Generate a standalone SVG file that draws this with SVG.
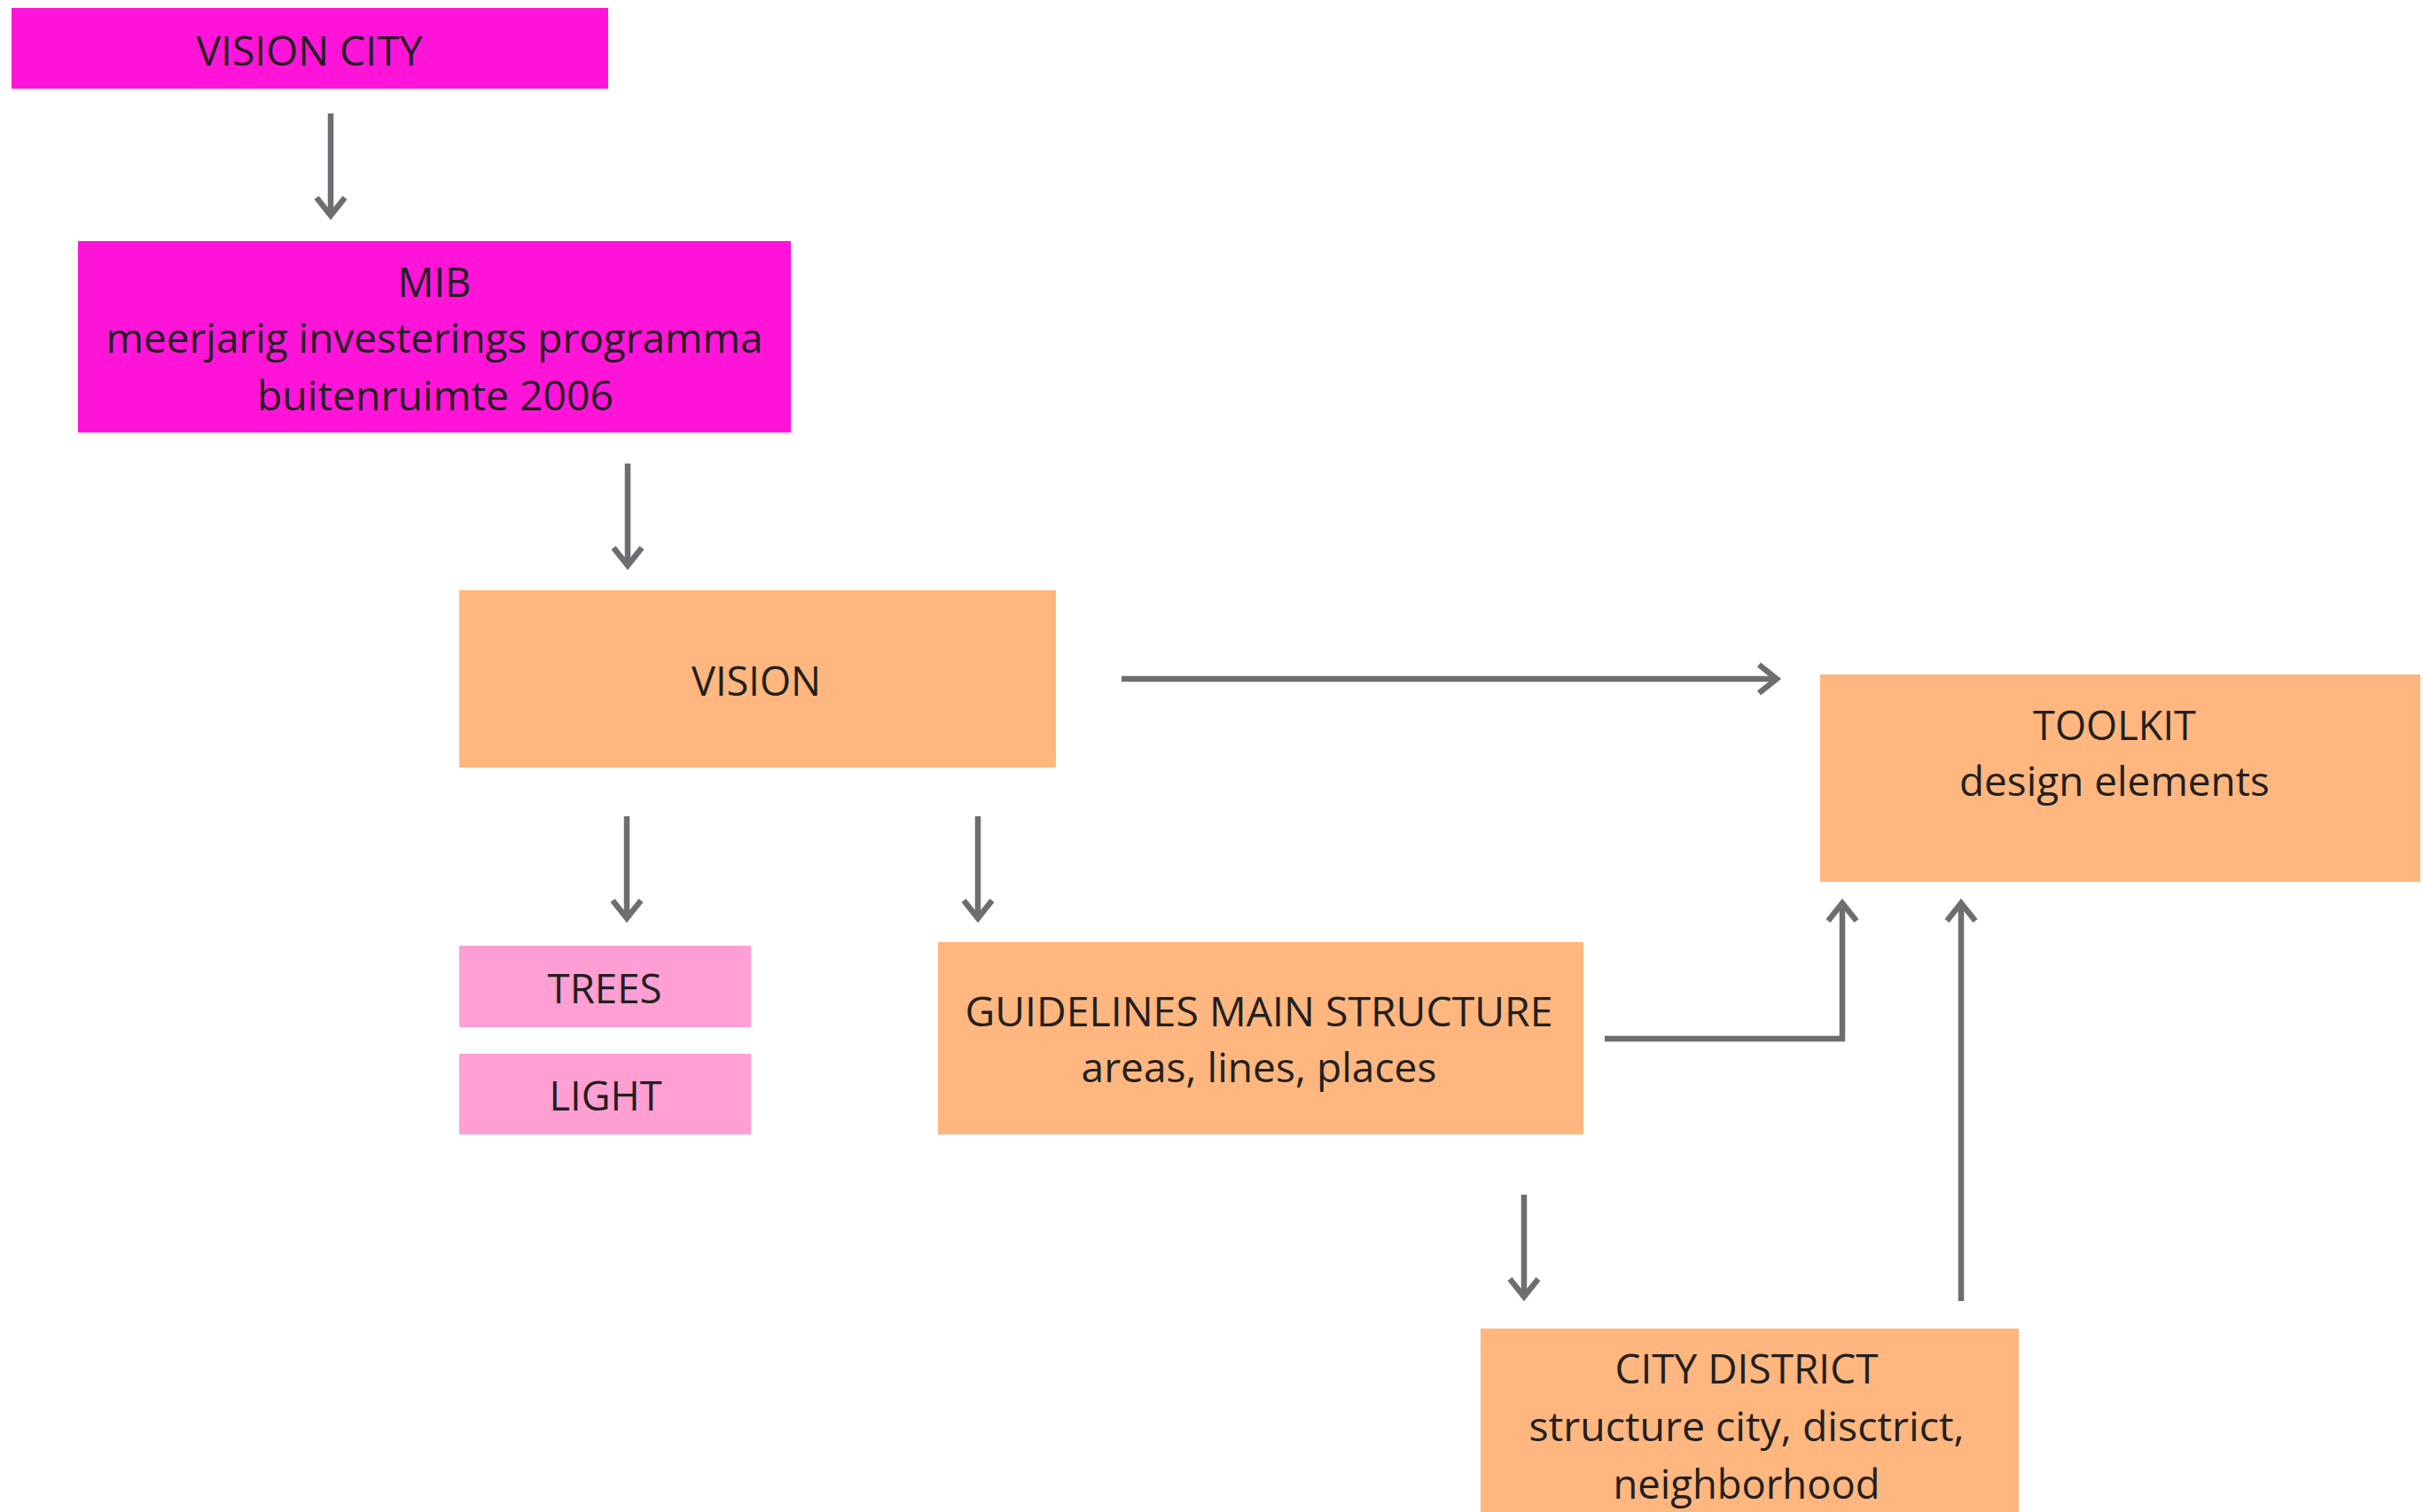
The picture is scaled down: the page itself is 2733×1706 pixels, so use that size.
<svg xmlns="http://www.w3.org/2000/svg" width="2733" height="1706" viewBox="0 0 2733 1706">
<style>
.t{font-family:"Open Sans","Noto Sans","Liberation Sans",sans-serif;font-size:46px;fill:#231F20;text-anchor:middle}
.mag{fill:#FF14D8}
.pink{fill:#FF9FD4}
.orange{fill:#FFB77F}
.c{fill:none;stroke:#6E6E72;stroke-width:6.5}
</style>
<defs>
<marker id="ah" markerUnits="userSpaceOnUse" markerWidth="40" markerHeight="40" viewBox="-30 -20 40 40" refX="0" refY="0" orient="auto">
<path d="M -20 -16 L 0 0 L -20 16" fill="none" stroke="#6E6E72" stroke-width="6.5"/>
</marker>
</defs>
<rect width="2733" height="1706" fill="#FFFFFF"/>
<g id="vision-city">
<rect class="mag" x="13" y="9" width="673" height="91"/>
<text class="t" x="349" y="74" textLength="255" lengthAdjust="spacingAndGlyphs">VISION CITY</text>
</g>
<g id="mib">
<rect class="mag" x="88" y="272" width="804" height="216"/>
<text class="t" x="490" y="335" textLength="83" lengthAdjust="spacingAndGlyphs">MIB</text>
<text class="t" x="490" y="398" textLength="741" lengthAdjust="spacingAndGlyphs">meerjarig investerings programma</text>
<text class="t" x="491" y="463" textLength="402" lengthAdjust="spacingAndGlyphs">buitenruimte 2006</text>
</g>
<g id="vision">
<rect class="orange" x="518" y="666" width="673" height="200"/>
<text class="t" x="853" y="785" textLength="146" lengthAdjust="spacingAndGlyphs">VISION</text>
</g>
<g id="trees">
<rect class="pink" x="518" y="1067" width="329" height="92"/>
<text class="t" x="682" y="1132" textLength="129" lengthAdjust="spacingAndGlyphs">TREES</text>
</g>
<g id="light">
<rect class="pink" x="518" y="1189" width="329" height="91"/>
<text class="t" x="683" y="1253" textLength="127" lengthAdjust="spacingAndGlyphs">LIGHT</text>
</g>
<g id="guidelines">
<rect class="orange" x="1058" y="1063" width="728" height="217"/>
<text class="t" x="1420" y="1158" textLength="663" lengthAdjust="spacingAndGlyphs">GUIDELINES MAIN STRUCTURE</text>
<text class="t" x="1420" y="1221" textLength="401" lengthAdjust="spacingAndGlyphs">areas, lines, places</text>
</g>
<g id="toolkit">
<rect class="orange" x="2053" y="761" width="677" height="234"/>
<text class="t" x="2385" y="835" textLength="184" lengthAdjust="spacingAndGlyphs">TOOLKIT</text>
<text class="t" x="2385" y="898" textLength="350" lengthAdjust="spacingAndGlyphs">design elements</text>
</g>
<g id="city-district">
<rect class="orange" x="1670" y="1499" width="607" height="207"/>
<text class="t" x="1970" y="1561" textLength="297" lengthAdjust="spacingAndGlyphs">CITY DISTRICT</text>
<text class="t" x="1970" y="1626" textLength="491" lengthAdjust="spacingAndGlyphs">structure city, disctrict,</text>
<text class="t" x="1970" y="1691" textLength="301" lengthAdjust="spacingAndGlyphs">neighborhood</text>
</g>
<g id="connectors">
<path class="c" d="M 373 128 V 243" marker-end="url(#ah)"/>
<path class="c" d="M 708 523 V 638" marker-end="url(#ah)"/>
<path class="c" d="M 1265 766 H 2004" marker-end="url(#ah)"/>
<path class="c" d="M 707 921 V 1036" marker-end="url(#ah)"/>
<path class="c" d="M 1103 921 V 1036" marker-end="url(#ah)"/>
<path class="c" d="M 1810 1172 H 2078 V 1019" marker-end="url(#ah)"/>
<path class="c" d="M 2212 1468 V 1019" marker-end="url(#ah)"/>
<path class="c" d="M 1719 1348 V 1463" marker-end="url(#ah)"/>
</g>
</svg>
